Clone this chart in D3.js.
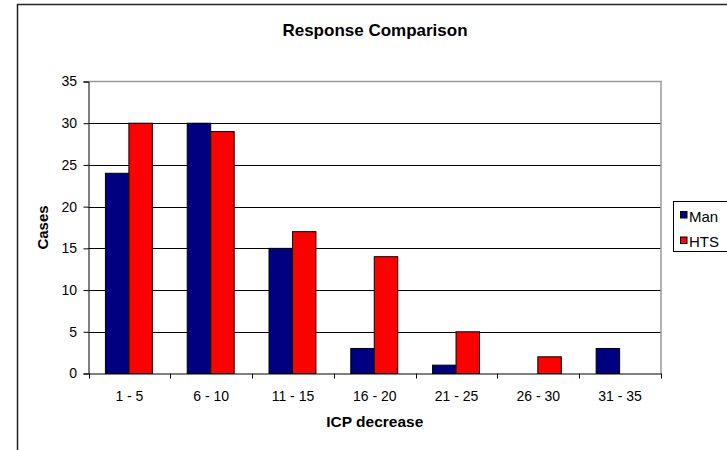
<!DOCTYPE html>
<html><head><meta charset="utf-8">
<script src="https://cdn.jsdelivr.net/npm/d3@7"></script>
<style>body{margin:0;background:#fff}svg{display:block;font-family:Arial,"Liberation Sans",sans-serif}</style>
</head><body>
<svg id="c" width="727" height="450"></svg>
<script>
const categories = ["1 - 5","6 - 10","11 - 15","16 - 20","21 - 25","26 - 30","31 - 35"];
const seriesNames = ["Man","HTS"];
const manValues = [24,30,15,3,1,0,3];
const htsValues = [30,29,17,14,5,2,0];
const yTicks = [0,5,10,15,20,25,30,35];
const colors = ["#000080","#FF0000"];

const FONT = 'Arial,"Liberation Sans",sans-serif';
const svg = d3.select("#c");
const L = 88.5, R = 661, T = 81.5, B = 373.5;

// outer chart border
svg.append("rect").attr("x",17.5).attr("y",4.5).attr("width",760).attr("height",500)
  .attr("fill","none").attr("stroke","#222").attr("stroke-width",1.5);

const x0 = d3.scaleBand().domain(categories).range([L,R]).padding(0);
const x1 = d3.scaleBand().domain(seriesNames).range([x0.bandwidth()*0.207, x0.bandwidth()*0.207 + x0.bandwidth()*0.574]);
const y = d3.scaleLinear().domain([0,35]).range([B,T]);

// gridlines
svg.append("g").selectAll("line").data(yTicks.filter(d=>d>0 && d<35)).join("line")
  .attr("x1",L).attr("x2",R).attr("y1",d=>Math.round(y(d))+0.5).attr("y2",d=>Math.round(y(d))+0.5)
  .attr("stroke","#000").attr("stroke-width",1);

// plot area border top/right gray
svg.append("path").attr("d",`M${L},${T}H${R}V${B}`).attr("fill","none").attr("stroke","#999").attr("stroke-width",1.5);

// bars
const data = categories.map((c,i)=>({c, vals:[{s:"Man",v:manValues[i]},{s:"HTS",v:htsValues[i]}]}));
const g = svg.append("g");
data.forEach(d=>{
  d.vals.forEach((e,j)=>{
    if (e.v<=0) return;
    g.append("rect")
      .attr("x", x0(d.c)+x1(e.s))
      .attr("y", y(e.v))
      .attr("width", x1.bandwidth())
      .attr("height", y(0)-y(e.v))
      .attr("fill", colors[j]).attr("stroke","#000").attr("stroke-width",1);
  });
});

// y axis
const yAxis = d3.axisLeft(y).tickValues(yTicks).tickSize(5).tickPadding(6.5);
const ya = svg.append("g").attr("transform",`translate(${L},0)`).call(yAxis);
ya.attr("font-size",null).attr("font-family",null);
ya.select(".domain").attr("stroke","#000");
ya.selectAll(".tick line").attr("stroke","#000");
ya.selectAll("text").style("font-size","14px").attr("fill","#000").style("font-family",FONT);

// x axis
const xAxis = d3.axisBottom(x0).tickSize(0).tickPadding(17.5);
const xa = svg.append("g").attr("transform",`translate(0,${B})`).call(xAxis);
xa.attr("font-size",null).attr("font-family",null);
xa.select(".domain").attr("stroke","#000");
xa.selectAll("text").style("font-size","14px").attr("fill","#000").style("font-family",FONT);
// boundary ticks
const bounds = categories.map(c=>x0(c)).concat([R]);
svg.append("g").selectAll("line").data(bounds).join("line")
  .attr("x1",d=>Math.round(d)+0.5).attr("x2",d=>Math.round(d)+0.5).attr("y1",B).attr("y2",B+5)
  .attr("stroke","#000");

// titles
svg.append("text").attr("x",375).attr("y",36).attr("text-anchor","middle")
  .style("font-size","17px").attr("font-weight","bold").text("Response Comparison");
svg.append("text").attr("x",(L+R)/2).attr("y",427).attr("text-anchor","middle")
  .style("font-size","15.5px").attr("font-weight","bold").text("ICP decrease");
svg.append("text").attr("transform",`translate(48,${(T+B)/2}) rotate(-90)`).attr("text-anchor","middle")
  .style("font-size","15px").attr("font-weight","bold").text("Cases");

// legend
const lg = svg.append("g");
lg.append("rect").attr("x",673.5).attr("y",201.5).attr("width",60).attr("height",50)
  .attr("fill","#fff").attr("stroke","#000").attr("stroke-width",1);
seriesNames.forEach((s,i)=>{
  const yy = 211.5 + i*25.5;
  lg.append("rect").attr("x",680.5).attr("y",yy).attr("width",6.5).attr("height",6.5)
    .attr("fill",colors[i]).attr("stroke","#000").attr("stroke-width",1);
  lg.append("text").attr("x",689).attr("y",yy+10).style("font-size","15px").text(s);
});
</script>
</body></html>
